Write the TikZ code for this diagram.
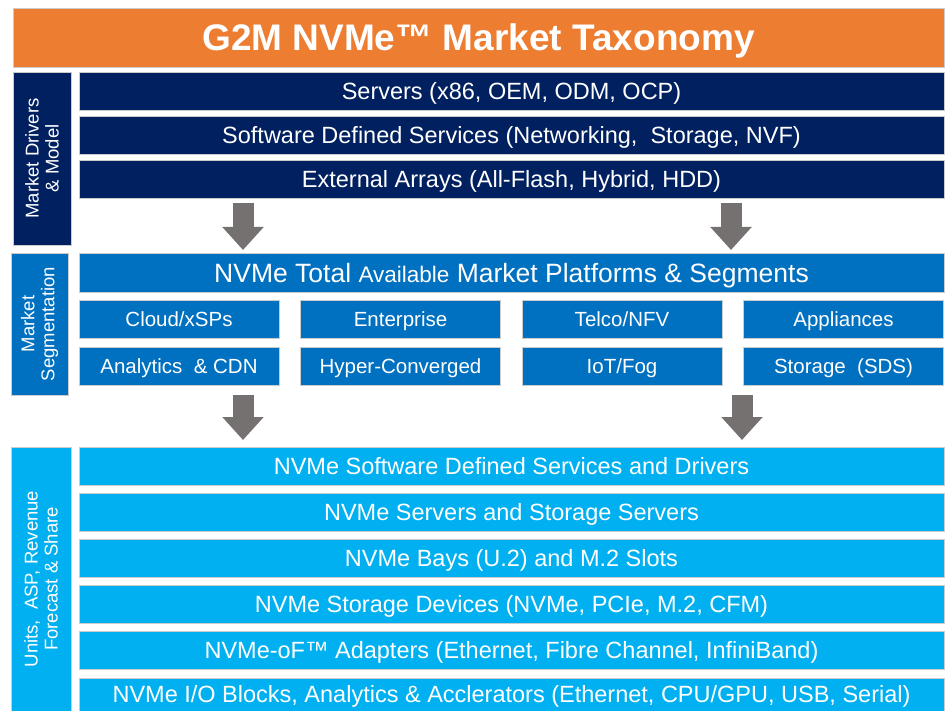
\documentclass[tikz,border=0pt]{standalone}
\usepackage{fontspec}
\setmainfont{Liberation Sans}
\usetikzlibrary{arrows.meta}

\definecolor{g2morange}{HTML}{ED7D31}
\definecolor{g2mnavy}{HTML}{002060}
\definecolor{g2mblue}{HTML}{0070C0}
\definecolor{g2mcyan}{HTML}{00B0F0}
\definecolor{g2mgray}{HTML}{767171}

\begin{document}
\begin{tikzpicture}[x=1pt,y=-1pt,
    box/.style={draw=gray!40, line width=0.8pt, text=white, inner sep=0pt, align=center},
    oneline/.style={text height=#1, text depth=0pt},
    titlebar/.style={box, oneline=26.5pt, fill=g2morange, minimum width=931pt, minimum height=59pt,
      font=\fontsize{37}{40}\selectfont\bfseries},
    sidelbl/.style={box, rotate=90, font=\fontsize{18.5}{20}\selectfont},
    drvbar/.style={box, oneline=16.8pt, fill=g2mnavy, minimum width=865pt, minimum height=38pt,
      font=\fontsize{23.5}{26}\selectfont},
    segbar/.style={box, oneline=19pt, fill=g2mblue, minimum width=865pt, minimum height=39pt,
      font=\fontsize{26.5}{28}\selectfont},
    segbox/.style={box, oneline=14.7pt, fill=g2mblue, minimum width=200pt, minimum height=38pt,
      font=\fontsize{20.5}{24}\selectfont},
    unitbar/.style={box, oneline=16.8pt, fill=g2mcyan, minimum width=865pt, minimum height=38pt,
      font=\fontsize{23.5}{26}\selectfont},
    bigarrow/.style={g2mgray, line width=21pt, -{Triangle[length=23pt,width=40pt]}}
  ]
  \useasboundingbox (0,0) rectangle (947,711);

  % title
  \node[titlebar] (title) at (478.5,37.5) {G2M NVMe™ Market Taxonomy};

  % market drivers & model
  \node[sidelbl, fill=g2mnavy, minimum width=173pt, minimum height=58pt] (drvlbl) at (42,158.5)
    {Market Drivers\\\& Model};
  \node[drvbar] (srv) at (511.5,91) {Servers (x86, OEM, ODM, OCP)};
  \node[drvbar] (sds) at (511.5,135) {Software Defined Services (Networking,\ \ Storage, NVF)};
  \node[drvbar] (ext) at (511.5,179) {External Arrays (All-Flash, Hybrid, HDD)};

  \coordinate (arrA1) at (243,203);
  \coordinate (arrA2) at (243,250);
  \coordinate (arrB1) at (731,203);
  \coordinate (arrB2) at (731,250);
  \draw[bigarrow] (arrA1) -- (arrA2);
  \draw[bigarrow] (arrB1) -- (arrB2);

  % market segmentation
  \node[sidelbl, fill=g2mblue, minimum width=142pt, minimum height=57pt] (seglbl) at (39.5,324)
    {Market\\Segmentation};
  \node[segbar] (tam) at (511.5,272.5)
    {NVMe Total {\fontsize{22.5}{24}\selectfont Available} Market Platforms \& Segments};

  \node[segbox] (cloud) at (179,319) {Cloud/xSPs};
  \node[segbox] (ent)   at (400.5,319) {Enterprise};
  \node[segbox] (telco) at (622,319) {Telco/NFV};
  \node[segbox] (appl)  at (843.5,319) {Appliances};
  \node[segbox] (anl)   at (179,366.5) {Analytics\ \ \& CDN};
  \node[segbox] (hci)   at (400.5,366.5) {Hyper-Converged};
  \node[segbox] (iot)   at (622,366.5) {IoT/Fog};
  \node[segbox] (stor)  at (843.5,366.5) {Storage\ \ (SDS)};

  \coordinate (arrC1) at (243,395);
  \coordinate (arrC2) at (243,440);
  \coordinate (arrD1) at (742,395);
  \coordinate (arrD2) at (742,440);
  \draw[bigarrow] (arrC1) -- (arrC2);
  \draw[bigarrow] (arrD1) -- (arrD2);

  % units, ASP, revenue
  \node[sidelbl, fill=g2mcyan, minimum width=264pt, minimum height=60pt] (unitlbl) at (41,579)
    {Units,\ \ ASP, Revenue\\Forecast \& Share};
  \node[unitbar] (drv)  at (511.5,466.5) {NVMe Software Defined Services and Drivers};
  \node[unitbar] (srvs) at (511.5,512) {NVMe Servers and Storage Servers};
  \node[unitbar] (bays) at (511.5,558) {NVMe Bays (U.2) and M.2 Slots};
  \node[unitbar] (dev)  at (511.5,604.5) {NVMe Storage Devices (NVMe, PCIe, M.2, CFM)};
  \node[unitbar] (nvof) at (511.5,650.5) {NVMe-oF™ Adapters (Ethernet, Fibre Channel, InfiniBand)};
  \node[unitbar, minimum height=33pt] (iob) at (511.5,694.5)
    {NVMe I/O Blocks, Analytics \& Acclerators (Ethernet, CPU/GPU, USB, Serial)};
\end{tikzpicture}
\end{document}
